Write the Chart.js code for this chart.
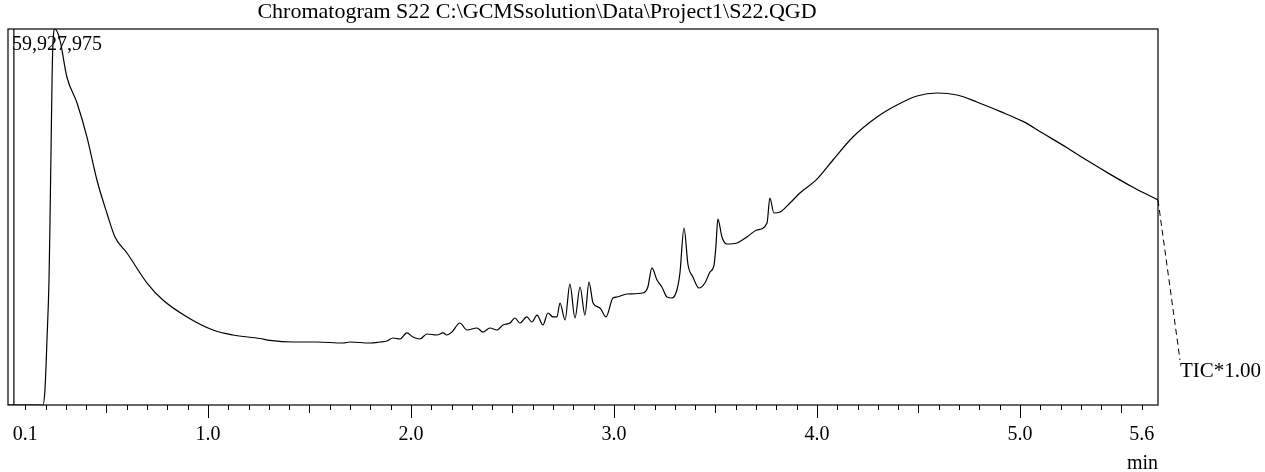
<!DOCTYPE html>
<html>
<head>
<meta charset="utf-8">
<script src="https://cdn.jsdelivr.net/npm/chart.js@4"></script>
<style>
  html, body { margin: 0; padding: 0; background: #fff; }
  canvas { display: block; }
</style>
</head>
<body>
<canvas id="chromCanvas" width="1265" height="472"></canvas>
<script>
// retention time (min) and TIC intensity (millions of counts)
const times = [0.015, 0.187, 0.197, 0.207, 0.217, 0.222, 0.227, 0.232, 0.236, 0.246,
    0.271, 0.305, 0.355, 0.404, 0.453, 0.502, 0.542, 0.601, 0.700, 0.778,
    0.897, 1.025, 1.123, 1.256, 1.305, 1.419, 1.537, 1.665, 1.700, 1.798,
    1.847, 1.882, 1.911, 1.946, 1.980, 2.010, 2.044, 2.079, 2.128, 2.158,
    2.177, 2.202, 2.241, 2.276, 2.325, 2.355, 2.389, 2.424, 2.453, 2.488,
    2.512, 2.537, 2.571, 2.596, 2.621, 2.650, 2.675, 2.700, 2.719, 2.734,
    2.759, 2.783, 2.808, 2.833, 2.857, 2.877, 2.897, 2.931, 2.961, 2.995,
    3.015, 3.064, 3.143, 3.167, 3.187, 3.212, 3.236, 3.261, 3.286, 3.310,
    3.325, 3.345, 3.365, 3.389, 3.419, 3.448, 3.473, 3.493, 3.502, 3.512,
    3.532, 3.557, 3.606, 3.655, 3.704, 3.754, 3.768, 3.788, 3.818, 3.867,
    3.916, 4.000, 4.079, 4.177, 4.296, 4.394, 4.493, 4.591, 4.690, 4.788,
    4.901, 5.015, 5.113, 5.232, 5.330, 5.443, 5.557, 5.680];
const tic = [0, 0, 2.39, 10.36, 19.92, 29.49, 40.64, 51.80, 57.38, 59.928,
    58.17, 52.28, 48.13, 42.71, 35.86, 30.60, 26.78, 24.23, 19.44, 16.73,
    14.03, 11.95, 11.16, 10.60, 10.30, 10.04, 10.04, 9.88, 10.04, 9.88,
    10.04, 10.20, 10.68, 10.52, 11.48, 10.84, 10.52, 11.32, 11.16, 11.48,
    11.16, 11.63, 13.07, 11.95, 12.27, 11.63, 12.27, 11.95, 12.75, 13.07,
    13.87, 13.07, 14.03, 13.23, 14.34, 12.75, 14.66, 14.03, 14.03, 16.26,
    13.55, 19.28, 13.87, 18.81, 14.34, 19.60, 16.26, 15.46, 14.03, 17.05,
    17.21, 17.69, 17.85, 18.81, 21.84, 19.92, 18.81, 17.21, 17.05, 18.33,
    21.04, 28.21, 22.31, 20.40, 18.65, 19.44, 21.20, 22.31, 25.18, 29.64,
    26.78, 25.66, 25.82, 26.78, 27.89, 29.01, 32.99, 30.60, 30.76, 32.19,
    33.79, 36.00, 39.05, 42.71, 45.90, 47.81, 49.25, 49.73, 49.41, 48.29,
    46.80, 45.20, 43.30, 41.00, 39.00, 36.80, 34.70, 32.67];

const tickLabels = [0.1, 1.0, 2.0, 3.0, 4.0, 5.0, 5.6];
const tickValues = [];
for (let k = 1; k <= 56; k++) tickValues.push(k / 10);

const xMin = 0.015, xMax = 5.68;
const yMaxCounts = 59927975;
const yMax = yMaxCounts / 1e6;
const startLine = 0.044;   // vertical marker at the left
const titleText = 'Chromatogram S22 C:\\GCMSsolution\\Data\\Project1\\S22.QGD';
const traceLabel = 'TIC*1.00';
const serif = '"Liberation Serif", "DejaVu Serif", serif';

const framePlugin = {
    id: 'frame',
    afterDraw(chart) {
        const ctx = chart.ctx;
        const a = chart.chartArea;
        const xs = chart.scales.x, ys = chart.scales.y;
        ctx.save();
        ctx.strokeStyle = '#000';
        ctx.lineWidth = 1.2;
        ctx.strokeRect(a.left, a.top, a.right - a.left, a.bottom - a.top);

        // tick marks, longer at half and whole minutes
        ctx.lineWidth = 1;
        tickValues.forEach(v => {
            const px = Math.round(xs.getPixelForValue(v)) + 0.5;
            const tenth = Math.round(v * 10);
            let len = 5;
            if (tenth % 10 === 0) len = 13;
            else if (tenth % 5 === 0) len = 8;
            ctx.beginPath();
            ctx.moveTo(px, a.bottom);
            ctx.lineTo(px, a.bottom + len);
            ctx.stroke();
        });

        ctx.fillStyle = '#000';
        ctx.textBaseline = 'alphabetic';
        ctx.font = '22px ' + serif;
        ctx.textAlign = 'center';
        ctx.fillText(titleText, 537, 18);

        ctx.font = '20px ' + serif;
        ctx.textAlign = 'left';
        ctx.fillText(yMaxCounts.toLocaleString('en-US'), a.left + 4, 50);

        ctx.textAlign = 'right';
        ctx.fillText('min', a.right, 469);

        // leader from trace end to its label
        const ex = xs.getPixelForValue(times[times.length - 1]);
        const ey = ys.getPixelForValue(tic[tic.length - 1]);
        ctx.setLineDash([6, 4]);
        ctx.beginPath();
        ctx.moveTo(ex, ey);
        ctx.lineTo(a.right + 22, 360);
        ctx.stroke();
        ctx.setLineDash([]);
        ctx.font = '21px ' + serif;
        ctx.textAlign = 'left';
        ctx.fillText(traceLabel, a.right + 22, 377);
        ctx.restore();
    }
};

document.addEventListener('DOMContentLoaded', function(e) {
    const chromCanvas = document.getElementById('chromCanvas');
    new Chart(chromCanvas, {
        type: 'line',
        data: {
            datasets: [{
                data: times.map((t, i) => ({x: t, y: tic[i]})),
                borderColor: '#000',
                borderWidth: 1.2,
                pointRadius: 0,
                cubicInterpolationMode: 'monotone',
                fill: false
            }, {
                data: [{x: startLine, y: 0}, {x: startLine, y: yMax}],
                borderColor: '#000',
                borderWidth: 1.2,
                pointRadius: 0
            }]
        },
        options: {
            responsive: false,
            animation: false,
            devicePixelRatio: 1,
            layout: { padding: { left: 8, right: 107, top: 29, bottom: 0 } },
            plugins: {
                legend: { display: false },
                tooltip: { enabled: false }
            },
            scales: {
                x: {
                    type: 'linear',
                    min: xMin,
                    max: xMax,
                    grid: { display: false, drawTicks: false },
                    border: { display: false },
                    afterBuildTicks: scale => {
                        scale.ticks = tickValues.map(v => ({value: v}));
                    },
                    afterFit: scale => {
                        scale.height = 67;
                        scale.paddingLeft = 0;
                        scale.paddingRight = 0;
                    },
                    ticks: {
                        autoSkip: false,
                        maxRotation: 0,
                        padding: 18,
                        color: '#000',
                        font: { family: serif, size: 20 },
                        callback: v => tickLabels.some(l => Math.abs(l - v) < 1e-6) ? v.toFixed(1) : ''
                    }
                },
                y: {
                    display: false,
                    min: 0,
                    max: yMax
                }
            }
        },
        plugins: [framePlugin]
    });
});
</script>
</body>
</html>
